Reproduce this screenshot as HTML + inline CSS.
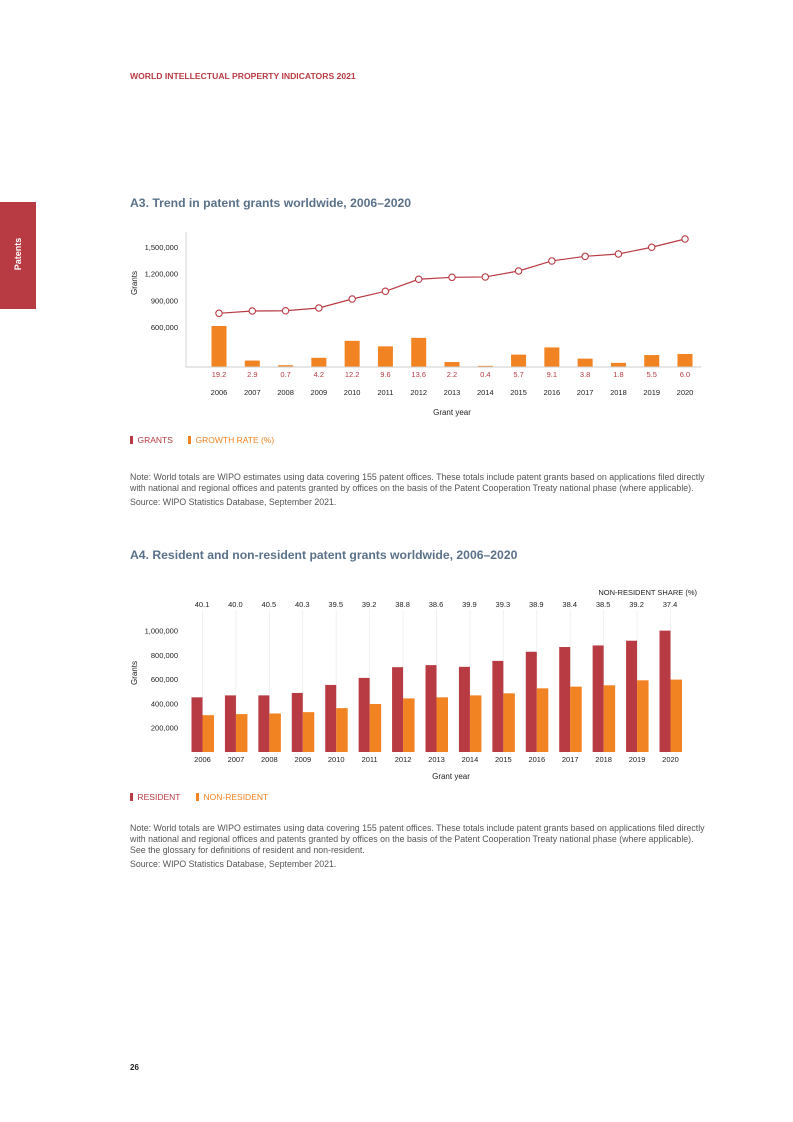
<!DOCTYPE html>
<html><head><meta charset="utf-8">
<style>
body{margin:0;background:#fff;font-family:"Liberation Sans",sans-serif;}
#page{position:relative;width:793px;height:1122px;overflow:hidden;background:#fff;}
.t{position:absolute;white-space:nowrap;}
.note{font-size:8.8px;color:#555;line-height:11px;}
.title{font-size:12.2px;font-weight:bold;color:#5a7189;}
svg text{font-family:"Liberation Sans",sans-serif;}
</style></head><body>
<div id="page">
<div class="t" style="left:130px;top:71px;font-size:8.6px;font-weight:bold;color:#b83a42;">WORLD INTELLECTUAL PROPERTY INDICATORS 2021</div>
<div style="position:absolute;left:0;top:202px;width:36px;height:107px;background:#b83a42;"></div>
<div class="t" style="left:1px;top:249px;width:34px;text-align:center;font-size:9px;font-weight:bold;color:#fff;transform:rotate(-90deg);">Patents</div>
<div class="t title" style="left:130px;top:196px;">A3. Trend in patent grants worldwide, 2006–2020</div>
<div class="t" style="left:130px;top:435px;font-size:8.5px;color:#b83a42;"><span style="display:inline-block;width:2.5px;height:8px;background:#b83a42;margin-right:5px;vertical-align:-1px"></span>GRANTS</div>
<div class="t" style="left:188px;top:435px;font-size:8.5px;color:#f28322;"><span style="display:inline-block;width:2.5px;height:8px;background:#f28322;margin-right:5px;vertical-align:-1px"></span>GROWTH RATE (%)</div>
<div class="t note" style="left:130px;top:472px;">Note: World totals are WIPO estimates using data covering 155 patent offices. These totals include patent grants based on applications filed directly<br>with national and regional offices and patents granted by offices on the basis of the Patent Cooperation Treaty national phase (where applicable).</div>
<div class="t note" style="left:130px;top:497px;">Source: WIPO Statistics Database, September 2021.</div>
<div class="t title" style="left:130px;top:548px;">A4. Resident and non-resident patent grants worldwide, 2006–2020</div>
<div class="t" style="left:130px;top:792px;font-size:8.5px;color:#b83a42;"><span style="display:inline-block;width:2.5px;height:8px;background:#b83a42;margin-right:5px;vertical-align:-1px"></span>RESIDENT</div>
<div class="t" style="left:196px;top:792px;font-size:8.5px;color:#f28322;"><span style="display:inline-block;width:2.5px;height:8px;background:#f28322;margin-right:5px;vertical-align:-1px"></span>NON-RESIDENT</div>
<div class="t note" style="left:130px;top:823px;">Note: World totals are WIPO estimates using data covering 155 patent offices. These totals include patent grants based on applications filed directly<br>with national and regional offices and patents granted by offices on the basis of the Patent Cooperation Treaty national phase (where applicable).<br>See the glossary for definitions of resident and non-resident.</div>
<div class="t note" style="left:130px;top:859px;">Source: WIPO Statistics Database, September 2021.</div>
<div class="t" style="left:130px;top:1063px;font-size:8px;font-weight:bold;color:#222;">26</div>
<svg id="charts" width="793" height="1122" style="position:absolute;left:0;top:0;"></svg>
</div>
<script>
const years=["2006","2007","2008","2009","2010","2011","2012","2013","2014","2015","2016","2017","2018","2019","2020"];
const grants=[754000,780000,783000,814000,915000,1002000,1137000,1159000,1163000,1230000,1343000,1395000,1421000,1497000,1590000];
const growth=[19.2,2.9,0.7,4.2,12.2,9.6,13.6,2.2,0.4,5.7,9.1,3.8,1.8,5.5,6.0];
const growthLabels=["19.2","2.9","0.7","4.2","12.2","9.6","13.6","2.2","0.4","5.7","9.1","3.8","1.8","5.5","6.0"];
const a3Ticks=[600000,900000,1200000,1500000];
const a3TickLabels=["600,000","900,000","1,200,000","1,500,000"];
const resident=[450000,466000,466000,486000,552000,610000,698000,715000,701000,750000,825000,864000,877000,916000,999000];
const nonResident=[303000,312000,317000,328000,361000,395000,441000,450000,466000,483000,524000,538000,549000,590000,596000];
const shareLabels=["40.1","40.0","40.5","40.3","39.5","39.2","38.8","38.6","39.9","39.3","38.9","38.4","38.5","39.2","37.4"];
const a4Ticks=[200000,400000,600000,800000,1000000];
const a4TickLabels=["200,000","400,000","600,000","800,000","1,000,000"];

const svg=document.getElementById('charts');
const NS='http://www.w3.org/2000/svg';
function mk(tag,attrs,parent){const e=document.createElementNS(NS,tag);for(const k in attrs)e.setAttribute(k,attrs[k]);(parent||svg).appendChild(e);return e;}
function txt(x,y,s,size,fill,anchor,parent){const e=mk('text',{x:x,y:y,'font-size':size,fill:fill,'text-anchor':anchor||'middle'},parent);e.textContent=s;return e;}

// ---- A3 ----
const a3x=i=>219+i*(466/14);
const a3y=v=>327-(v-600000)*(26.67/300000);
const a3gy=v=>366.7-v*2.12;
const g3=mk('g',{});


const a3axis=mk('line',{x1:186,y1:232,x2:186,y2:367,stroke:'#ccc','stroke-width':0.8},g3);


a3Ticks.forEach((t,i)=>{const e=txt(178,a3y(t)+3,a3TickLabels[i],7.5,'#222','end',g3);

});
const yt=txt(0,0,'Grants',8,'#222','middle',g3);
yt.setAttribute('transform','translate(137,283) rotate(-90)');


growth.forEach((v,i)=>{const b=mk('rect',{x:a3x(i)-7.5,y:a3gy(v),width:15,height:366.7-a3gy(v),fill:'#f28322'},g3);


const l=txt(a3x(i),377,growthLabels[i],7.5,'#b83a42','middle',g3);


const yl=txt(a3x(i),395,years[i],7.5,'#222','middle',g3);

});
const base3=mk('line',{x1:186,y1:367,x2:701,y2:367,stroke:'#ccc','stroke-width':1},g3);


const pl=mk('polyline',{points:grants.map((v,i)=>a3x(i)+','+a3y(v)).join(' '),fill:'none',stroke:'#b83a42','stroke-width':1.2},g3);


grants.forEach((v,i)=>{const c=mk('circle',{cx:a3x(i),cy:a3y(v),r:3.2,fill:'#fff',stroke:'#b83a42','stroke-width':1.1},g3);

});
const xt3=txt(452,415,'Grant year',8,'#222','middle',g3);



// ---- A4 ----
const a4x=i=>202.5+i*(468/14);
const a4y=v=>752-v*(24.3/200000);
const g4=mk('g',{});


years.forEach((y,i)=>{const gl=mk('line',{x1:a4x(i),y1:610,x2:a4x(i),y2:752,stroke:'#eee','stroke-width':0.8},g4);

});
a4Ticks.forEach((t,i)=>{const e=txt(178,a4y(t)+3,a4TickLabels[i],7.5,'#222','end',g4);

});
const yt4=txt(0,0,'Grants',8,'#222','middle',g4);
yt4.setAttribute('transform','translate(137,673) rotate(-90)');


const sh=txt(697,595,'NON-RESIDENT SHARE (%)',7.5,'#222','end',g4);


years.forEach((y,i)=>{
const r=mk('rect',{x:a4x(i)-11,y:a4y(resident[i]),width:11,height:752-a4y(resident[i]),fill:'#b83a42'},g4);


const n=mk('rect',{x:a4x(i),y:a4y(nonResident[i]),width:11.5,height:752-a4y(nonResident[i]),fill:'#f28322'},g4);


const s=txt(a4x(i)-0.5,607,shareLabels[i],7.5,'#222','middle',g4);


const yl=txt(a4x(i),762,y,7.5,'#222','middle',g4);

});
const xt4=txt(451,779,'Grant year',8,'#222','middle',g4);


</script>
</body></html>
